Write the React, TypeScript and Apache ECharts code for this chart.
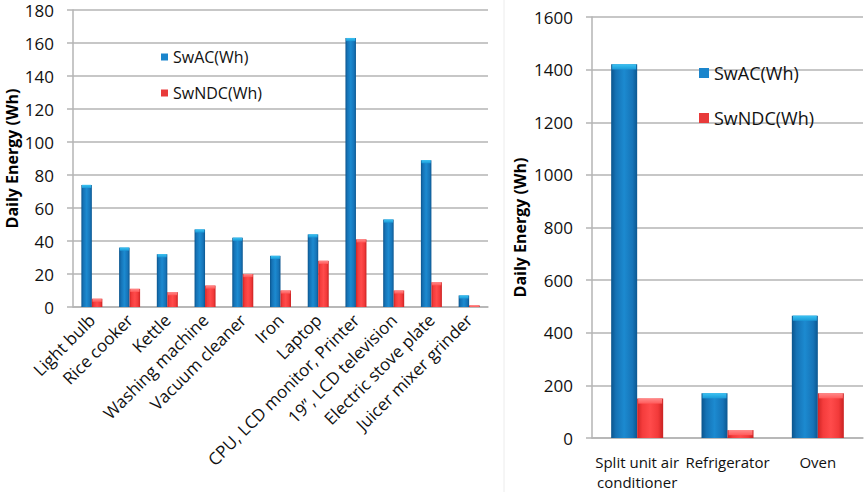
import React, { useEffect, useRef } from "react";
import * as echarts from "echarts";

const smallCategories = [
  "Light bulb",
  "Rice cooker",
  "Kettle",
  "Washing machine",
  "Vacuum cleaner",
  "Iron",
  "Laptop",
  "CPU, LCD monitor, Printer",
  "19”, LCD television",
  "Electric stove plate",
  "Juicer mixer grinder",
];
const smallSwAC = [74, 36, 32, 47, 42, 31, 44, 163, 53, 89, 7];
const smallSwNDC = [5, 11, 9, 13, 20, 10, 28, 41, 10, 15, 1];

const bigCategories = ["Split unit air\nconditioner", "Refrigerator", "Oven"];
const bigSwAC = [1420, 170, 465];
const bigSwNDC = [150, 30, 170];

const leftTicks = { min: 0, max: 180, interval: 20 };
const rightTicks = { min: 0, max: 1600, interval: 200 };

const FONT = "Open Sans";

const blueGrad = () =>
  new echarts.graphic.LinearGradient(0, 0, 1, 0, [
    { offset: 0, color: "#0b548c" },
    { offset: 0.18, color: "#1572b5" },
    { offset: 0.5, color: "#1c8ad0" },
    { offset: 0.82, color: "#1674b8" },
    { offset: 1, color: "#0c5790" },
  ]);
const redGrad = () =>
  new echarts.graphic.LinearGradient(0, 0, 1, 0, [
    { offset: 0, color: "#cf2424" },
    { offset: 0.2, color: "#f43c3c" },
    { offset: 0.5, color: "#ff4b4b" },
    { offset: 0.8, color: "#f23a3a" },
    { offset: 1, color: "#c92222" },
  ]);
const blueCap = () =>
  new echarts.graphic.LinearGradient(0, 0, 0, 1, [
    { offset: 0, color: "#3cc3f2" },
    { offset: 1, color: "#1a9ad8" },
  ]);
const redCap = () =>
  new echarts.graphic.LinearGradient(0, 0, 0, 1, [
    { offset: 0, color: "#ff8a8a" },
    { offset: 1, color: "#ff5a5a" },
  ]);

export default function App() {
  const ref = useRef<HTMLDivElement>(null);
  useEffect(() => {
    if (!ref.current) return;
    const chart = echarts.init(ref.current, null, { renderer: "svg" });
    const axisLineStyle = { color: "#b4b4b4", width: 1.5 };
    const yCommon = (t: any, gridIndex: number, gap: number, nameSize: number) => ({
      type: "value",
      gridIndex,
      min: t.min,
      max: t.max,
      interval: t.interval,
      name: "Daily Energy (Wh)",
      nameLocation: "middle",
      nameGap: gap,
      nameTextStyle: { fontFamily: FONT, fontWeight: "bold", fontSize: nameSize, color: "#000" },
      axisLine: { show: true, lineStyle: axisLineStyle },
      axisTick: { show: true, length: 6, lineStyle: axisLineStyle },
      axisLabel: {
        fontFamily: FONT,
        fontSize: 17,
        color: "#111",
        margin: 19,
        formatter: (v: number) => String(v),
      },
      splitLine: { show: true, lineStyle: axisLineStyle },
    });
    const bar = (name: string, axis: number, data: number[], w: number, color: any) => ({
      name,
      type: "bar",
      xAxisIndex: axis,
      yAxisIndex: axis,
      data,
      barWidth: w,
      barGap: "0%",
      itemStyle: { color },
    });
    const cap = (name: string, axis: number, data: number[], w: number, h: number, dx: number, color: any) => ({
      name,
      type: "pictorialBar",
      xAxisIndex: axis,
      yAxisIndex: axis,
      data: data.map((v) => ({ value: v, symbolSize: [w, Math.min(h, Math.max(1, v * (axis === 0 ? 1.65 : 0.264)))] })),
      symbol: "rect",
      symbolPosition: "end",
      symbolOffset: [dx, 0],
      z: 3,
      silent: true,
      itemStyle: { color },
    });
    chart.setOption({
      animation: false,
      backgroundColor: "#ffffff",
      grid: [
        { left: 73, right: 377, top: 10, bottom: 185 },
        { left: 592, right: 2, top: 17, bottom: 53 },
      ],
      legend: [
        {
          orient: "vertical",
          left: 156,
          top: 42,
          itemWidth: 7,
          itemHeight: 7,
          itemGap: 16,
          icon: "rect",
          textStyle: { fontFamily: FONT, fontSize: 16, lineHeight: 20, color: "#111" },
          data: [
            { name: "SwAC(Wh)", itemStyle: { color: "#1a85cc" } },
            { name: "SwNDC(Wh)", itemStyle: { color: "#e83a3a" } },
          ],
        },
        {
          orient: "vertical",
          left: 694,
          top: 57,
          itemWidth: 10,
          itemHeight: 10,
          itemGap: 23,
          icon: "rect",
          textStyle: { fontFamily: FONT, fontSize: 18, lineHeight: 22, color: "#111" },
          data: [
            { name: "SwAC(Wh)", itemStyle: { color: "#1a85cc" } },
            { name: "SwNDC(Wh)", itemStyle: { color: "#e83a3a" } },
          ],
        },
      ],
      xAxis: [
        {
          type: "category",
          gridIndex: 0,
          data: smallCategories,
          axisLine: { show: true, lineStyle: axisLineStyle },
          axisTick: { show: false },
          axisLabel: {
            interval: 0,
            rotate: 45,
            fontFamily: FONT,
            fontSize: 17,
            color: "#111",
            margin: 10,
          },
        },
        {
          type: "category",
          gridIndex: 1,
          data: bigCategories,
          axisLine: { show: true, lineStyle: axisLineStyle },
          axisTick: { show: false },
          axisLabel: {
            interval: 0,
            fontFamily: FONT,
            fontSize: 15,
            lineHeight: 20,
            color: "#111",
            margin: 14,
          },
        },
      ],
      yAxis: [yCommon(leftTicks, 0, 53, 16), yCommon(rightTicks, 1, 64, 16)],
      series: [
        bar("SwAC(Wh)", 0, smallSwAC, 10.5, blueGrad()),
        bar("SwNDC(Wh)", 0, smallSwNDC, 10.5, redGrad()),
        bar("SwAC(Wh)", 1, bigSwAC, 26, blueGrad()),
        bar("SwNDC(Wh)", 1, bigSwNDC, 26, redGrad()),
        cap("SwAC(Wh)", 0, smallSwAC, 9, 3, -5.25, blueCap()),
        cap("SwNDC(Wh)", 0, smallSwNDC, 9, 3, 5.25, redCap()),
        cap("SwAC(Wh)", 1, bigSwAC, 24, 5, -13, blueCap()),
        cap("SwNDC(Wh)", 1, bigSwNDC, 24, 5, 13, redCap()),
      ],
      graphic: [
        {
          type: "line",
          shape: { x1: 504, y1: 0, x2: 504, y2: 492 },
          style: { stroke: "#ececec", lineWidth: 1 },
          silent: true,
        },
      ],
    });
    return () => chart.dispose();
  }, []);
  return (
    <div
      ref={ref}
      style={{ position: "fixed", left: 0, top: 0, width: 865, height: 492, background: "#fff" }}
    />
  );
}
